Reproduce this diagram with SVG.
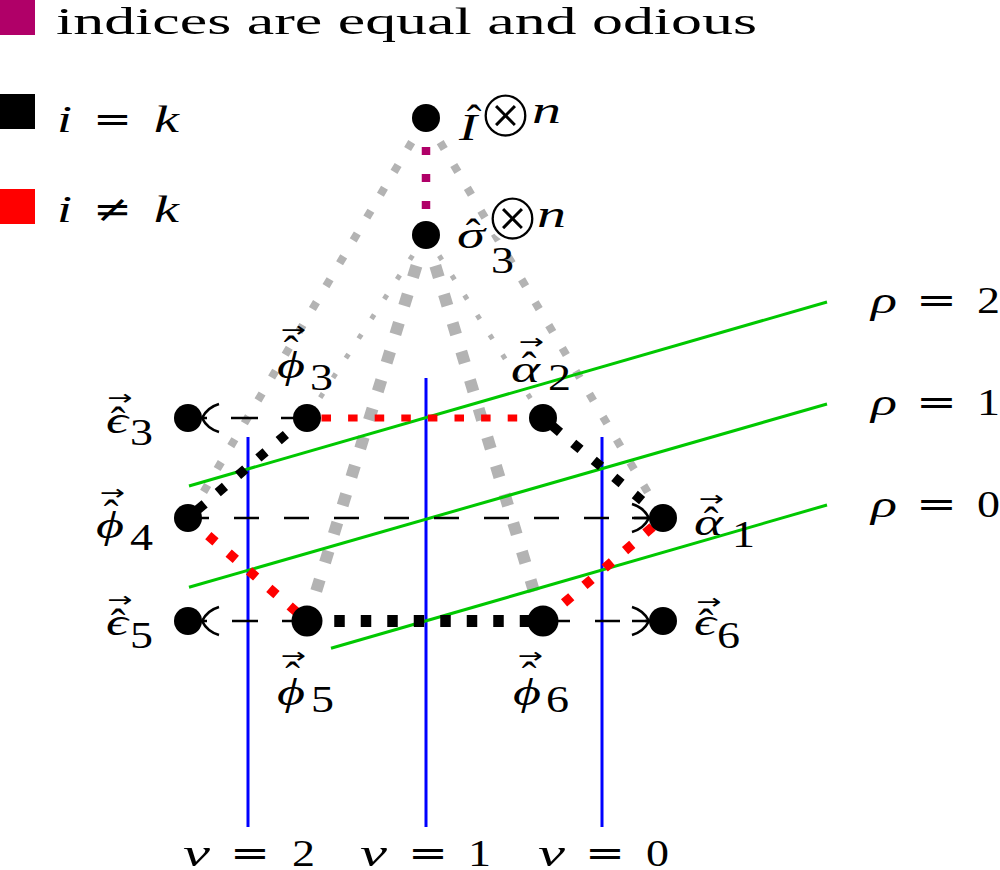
<svg xmlns="http://www.w3.org/2000/svg" width="1000" height="870" viewBox="0 0 1000 870">
<style>
.t{font-family:"Liberation Serif","DejaVu Serif",serif;font-size:38px;fill:#000}
.m{font-style:italic}
.op{font-family:"DejaVu Serif","Liberation Serif",serif;font-size:38px;fill:#000}
.otimes{font-family:"DejaVu Sans","DejaVu Serif",sans-serif;font-size:68px;text-anchor:middle;fill:#000;stroke:#fff;stroke-width:2.6px}
.hat{font-family:"Liberation Serif","DejaVu Serif",serif;font-size:44px;text-anchor:middle;fill:#000}
.vec{font-family:"DejaVu Sans","Liberation Sans",sans-serif;font-size:30px;text-anchor:middle;fill:#000}
.gray{stroke:#b3b3b3;fill:none}
.nu{stroke:#0000ff;stroke-width:3}
.rho{stroke:#00c800;stroke-width:3}
.dash{stroke:#000;stroke-width:2.7;fill:none}
.tip{stroke:#000;stroke-width:2.7;fill:none}
.node{fill:#000}
</style>

<g id="legend">
  <rect x="0" y="0" width="35" height="35" fill="#b00068"/>
  <text class="t" x="56" y="34" font-size="44" textLength="701" lengthAdjust="spacingAndGlyphs">indices are equal and odious</text>
  <rect x="0" y="94" width="35" height="35" fill="#000"/>
  <text class="t" y="132"><tspan x="57" class="m" textLength="15" lengthAdjust="spacingAndGlyphs">i</tspan><tspan x="93" class="op" textLength="39" lengthAdjust="spacingAndGlyphs">=</tspan><tspan x="154" class="m" textLength="25" lengthAdjust="spacingAndGlyphs">k</tspan></text>
  <rect x="0" y="189" width="35" height="35" fill="#ff0000"/>
  <text class="t" y="222"><tspan x="57" class="m" textLength="15" lengthAdjust="spacingAndGlyphs">i</tspan><tspan x="93" class="op" textLength="39" lengthAdjust="spacingAndGlyphs">≠</tspan><tspan x="154" class="m" textLength="25" lengthAdjust="spacingAndGlyphs">k</tspan></text>
</g>

<g id="connectors">
  <g id="gray-links" class="gray">
    <path d="M411.7,142.1 L188,518" stroke-width="8" stroke-dasharray="8 18.6"/>
    <path d="M440.2,142.1 L663,518" stroke-width="8" stroke-dasharray="8 18.6"/>
    <path d="M412.6,255.5 L307,418" stroke-width="5" stroke-dasharray="5 18.5"/>
    <path d="M439.2,255.6 L543,418" stroke-width="5" stroke-dasharray="5 18.5"/>
    <path d="M416.5,265.8 L307,621" stroke-width="12" stroke-dasharray="12 17.85"/>
    <path d="M435.3,265.8 L543,621" stroke-width="12" stroke-dasharray="12 17.85"/>
  </g>
  <g id="grid">
    <line class="nu" x1="248" y1="437" x2="248" y2="827"/>
    <line class="nu" x1="426" y1="378" x2="426" y2="827"/>
    <line class="nu" x1="602" y1="437" x2="602" y2="827"/>
    <line class="rho" x1="189" y1="486" x2="827" y2="302"/>
    <line class="rho" x1="189" y1="587.3" x2="827" y2="404"/>
    <line class="rho" x1="331" y1="648.3" x2="827" y2="505"/>
  </g>
  <g id="dashed-arrows">
    <path class="dash" d="M231,418 L306,418" stroke-dasharray="27 23"/>
    <path class="dash" d="M232,621 L306,621" stroke-dasharray="26 24"/>
    <path class="dash" d="M184,518 L649,518" stroke-dasharray="25 25"/>
    <path class="dash" d="M545,621 L649,621" stroke-dasharray="25 25"/>
    <path class="tip" d="M219,404 C212,406 205.5,411 202,418 C205.5,425 212,430 219,432 M202,418 H207"/>
    <path class="tip" d="M219,607 C212,609 205.5,614 202,621 C205.5,628 212,633 219,635 M202,621 H207"/>
    <path class="tip" d="M632,504 C639,506 645.5,511 649,518 C645.5,525 639,530 632,532 M632,518 H649"/>
    <path class="tip" d="M632,607 C639,609 645.5,614 649,621 C645.5,628 639,633 632,635 M632,621 H649"/>
  </g>
  <g id="dotted-links" fill="none">
    <path d="M426,147 L426,222" stroke="#b00068" stroke-width="8.5" stroke-dasharray="8 19"/>
    <path d="M321.5,418 L530,418" stroke="#ff0000" stroke-width="7" stroke-dasharray="9.5 17.1"/>
    <path d="M334.25,621 L543,621" stroke="#000" stroke-width="12" stroke-dasharray="10.5 16"/>
    <path d="M285.9,434.5 L188,518" stroke="#000" stroke-width="9.5" stroke-dasharray="9.5 17.2"/>
    <path d="M208.3,535.6 L307,621" stroke="#ff0000" stroke-width="9.5" stroke-dasharray="9.5 17.4"/>
    <path d="M552.7,426.2 L663,518" stroke="#000" stroke-width="9.5" stroke-dasharray="9.5 17.2"/>
    <path d="M652.6,526.9 L543,621" stroke="#ff0000" stroke-width="9.5" stroke-dasharray="9.5 17.3"/>
  </g>
</g>

<g id="axis-labels">
  <text class="t" y="313"><tspan x="871" class="m" textLength="26" lengthAdjust="spacingAndGlyphs">ρ</tspan><tspan x="916" class="op" textLength="41" lengthAdjust="spacingAndGlyphs">=</tspan><tspan x="977" textLength="23" lengthAdjust="spacingAndGlyphs">2</tspan></text>
  <text class="t" y="415"><tspan x="871" class="m" textLength="26" lengthAdjust="spacingAndGlyphs">ρ</tspan><tspan x="916" class="op" textLength="41" lengthAdjust="spacingAndGlyphs">=</tspan><tspan x="977" textLength="23" lengthAdjust="spacingAndGlyphs">1</tspan></text>
  <text class="t" y="517"><tspan x="871" class="m" textLength="26" lengthAdjust="spacingAndGlyphs">ρ</tspan><tspan x="916" class="op" textLength="41" lengthAdjust="spacingAndGlyphs">=</tspan><tspan x="977" textLength="23" lengthAdjust="spacingAndGlyphs">0</tspan></text>
  <text class="t" y="866"><tspan x="183" class="m" textLength="27" lengthAdjust="spacingAndGlyphs">ν</tspan><tspan x="230" class="op" textLength="40" lengthAdjust="spacingAndGlyphs">=</tspan><tspan x="292" textLength="23" lengthAdjust="spacingAndGlyphs">2</tspan></text>
  <text class="t" y="866"><tspan x="360" class="m" textLength="27" lengthAdjust="spacingAndGlyphs">ν</tspan><tspan x="408" class="op" textLength="40" lengthAdjust="spacingAndGlyphs">=</tspan><tspan x="468" textLength="23" lengthAdjust="spacingAndGlyphs">1</tspan></text>
  <text class="t" y="866"><tspan x="538" class="m" textLength="27" lengthAdjust="spacingAndGlyphs">ν</tspan><tspan x="585" class="op" textLength="40" lengthAdjust="spacingAndGlyphs">=</tspan><tspan x="646" textLength="23" lengthAdjust="spacingAndGlyphs">0</tspan></text>
</g>

<g id="node-I">
  <circle class="node" cx="426" cy="118" r="14"/>
  <text class="t m" x="459" y="140" textLength="18" lengthAdjust="spacingAndGlyphs">I</text>
  <text class="hat" x="474" y="135">ˆ</text>
  <text class="otimes" x="505.5" y="136.6">⊗</text>
  <text class="t m" x="532" y="123" textLength="29" lengthAdjust="spacingAndGlyphs">n</text>
</g>
<g id="node-sigma3">
  <circle class="node" cx="426" cy="235" r="14"/>
  <text class="t m" x="457" y="248" textLength="28" lengthAdjust="spacingAndGlyphs">σ</text>
  <text class="hat" x="473" y="249">ˆ</text>
  <text class="otimes" x="512.5" y="239.6">⊗</text>
  <text class="t m" x="537" y="227" textLength="29" lengthAdjust="spacingAndGlyphs">n</text>
  <text class="t" x="491" y="273" textLength="23" lengthAdjust="spacingAndGlyphs">3</text>
</g>
<g id="node-eps3">
  <circle class="node" cx="188" cy="418" r="14"/>
  <text class="t m" x="106" y="433" textLength="22" lengthAdjust="spacingAndGlyphs">ϵ</text>
  <text class="hat" x="118" y="437">ˆ</text>
  <text class="vec" transform="translate(120,397.5) scale(1,0.7)" x="0" y="10.5">→</text>
  <text class="t" x="130" y="445" textLength="23" lengthAdjust="spacingAndGlyphs">3</text>
</g>
<g id="node-phi3">
  <circle class="node" cx="307" cy="418" r="14"/>
  <text class="t m" x="277" y="378" textLength="28" lengthAdjust="spacingAndGlyphs">ϕ</text>
  <text class="hat" x="291" y="366">ˆ</text>
  <text class="vec" transform="translate(293.5,330) scale(1,0.7)" x="0" y="10.5">→</text>
  <text class="t" x="310" y="390" textLength="23" lengthAdjust="spacingAndGlyphs">3</text>
</g>
<g id="node-alpha2">
  <circle class="node" cx="543" cy="418" r="14"/>
  <text class="t m" x="511" y="382" textLength="29" lengthAdjust="spacingAndGlyphs">α</text>
  <text class="hat" x="529" y="382">ˆ</text>
  <text class="vec" transform="translate(531.5,341.5) scale(1,0.7)" x="0" y="10.5">→</text>
  <text class="t" x="548" y="390" textLength="23" lengthAdjust="spacingAndGlyphs">2</text>
</g>
<g id="node-phi4">
  <circle class="node" cx="188" cy="518" r="14"/>
  <text class="t m" x="96" y="538" textLength="28" lengthAdjust="spacingAndGlyphs">ϕ</text>
  <text class="hat" x="111" y="530">ˆ</text>
  <text class="vec" transform="translate(112.5,492.5) scale(1,0.7)" x="0" y="10.5">→</text>
  <text class="t" x="130" y="550" textLength="23" lengthAdjust="spacingAndGlyphs">4</text>
</g>
<g id="node-alpha1">
  <circle class="node" cx="663" cy="518" r="14"/>
  <text class="t m" x="694" y="535" textLength="29" lengthAdjust="spacingAndGlyphs">α</text>
  <text class="hat" x="711" y="537">ˆ</text>
  <text class="vec" transform="translate(711.5,498.5) scale(1,0.7)" x="0" y="10.5">→</text>
  <text class="t" x="732" y="547" textLength="23" lengthAdjust="spacingAndGlyphs">1</text>
</g>
<g id="node-eps5">
  <circle class="node" cx="188" cy="621" r="14"/>
  <text class="t m" x="106" y="635" textLength="22" lengthAdjust="spacingAndGlyphs">ϵ</text>
  <text class="hat" x="118" y="639">ˆ</text>
  <text class="vec" transform="translate(120,600) scale(1,0.7)" x="0" y="10.5">→</text>
  <text class="t" x="130" y="648" textLength="23" lengthAdjust="spacingAndGlyphs">5</text>
</g>
<g id="node-phi5">
  <circle class="node" cx="307" cy="621" r="15.5"/>
  <text class="t m" x="277" y="705" textLength="28" lengthAdjust="spacingAndGlyphs">ϕ</text>
  <text class="hat" x="292.5" y="692">ˆ</text>
  <text class="vec" transform="translate(293.5,655.5) scale(1,0.7)" x="0" y="10.5">→</text>
  <text class="t" x="311" y="712" textLength="23" lengthAdjust="spacingAndGlyphs">5</text>
</g>
<g id="node-phi6">
  <circle class="node" cx="543" cy="621" r="15.5"/>
  <text class="t m" x="513" y="705" textLength="28" lengthAdjust="spacingAndGlyphs">ϕ</text>
  <text class="hat" x="529" y="692">ˆ</text>
  <text class="vec" transform="translate(530.5,655.5) scale(1,0.7)" x="0" y="10.5">→</text>
  <text class="t" x="546" y="712" textLength="23" lengthAdjust="spacingAndGlyphs">6</text>
</g>
<g id="node-eps6">
  <circle class="node" cx="663" cy="621" r="14"/>
  <text class="t m" x="694" y="635" textLength="22" lengthAdjust="spacingAndGlyphs">ϵ</text>
  <text class="hat" x="706" y="639">ˆ</text>
  <text class="vec" transform="translate(709,601.5) scale(1,0.7)" x="0" y="10.5">→</text>
  <text class="t" x="717" y="648" textLength="23" lengthAdjust="spacingAndGlyphs">6</text>
</g>
</svg>
